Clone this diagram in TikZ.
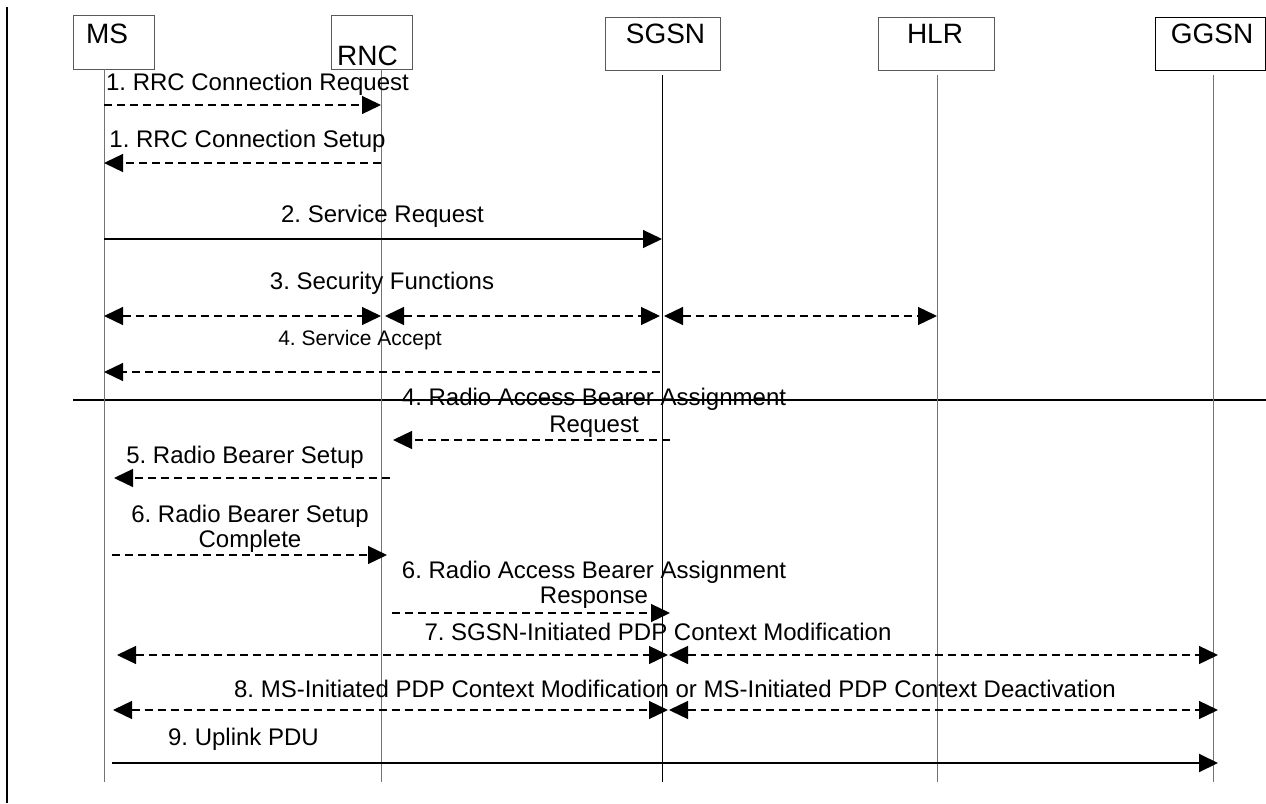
\documentclass[tikz,border=0pt]{standalone}
\usepackage{fontspec}
\setmainfont{Liberation Sans}
\usetikzlibrary{arrows.meta}
\frenchspacing
\begin{document}
\begin{tikzpicture}[x=1pt,y=-1pt,
  every node/.style={inner sep=0pt, outer sep=0pt},
  >={Triangle[length=19pt,width=18pt]},
  ent/.style={draw=black!65, line width=0.9pt, anchor=north west},
  entlabel/.style={font=\fontsize{28}{30}\selectfont, anchor=base},
  life/.style={draw=black!55, line width=0.9pt},
  lbl/.style={font=\fontsize{24}{26}\selectfont, anchor=base},
  slbl/.style={font=\fontsize{21}{23}\selectfont, anchor=base},
  dmsg/.style={line width=1.3pt, dash pattern=on 8pt off 5pt},
  smsg/.style={line width=1.1pt},
  rule/.style={line width=1.5pt}
]
\useasboundingbox (0,0) rectangle (1266,803);

% left bar and separator
\coordinate (barT) at (7,7);
\coordinate (barB) at (7,803);
\draw[line width=2.6pt] (barT) -- (barB);
\coordinate (sepL) at (73,400);
\coordinate (sepR) at (1266,400);
\draw[rule] (sepL) -- (sepR);

% entity boxes
\node[ent, minimum width=81pt, minimum height=54pt] (ms) at (73,15) {};
\node[ent, minimum width=81pt, minimum height=54pt] (rnc) at (331,15) {};
\node[ent, minimum width=115pt, minimum height=53pt] (sgsn) at (605,17) {};
\node[ent, minimum width=116pt, minimum height=53pt] (hlr) at (878,17) {};
\node[ent, draw=black, minimum width=110.5pt, minimum height=53pt] (ggsn) at (1155,17) {};
\node[entlabel] (msT) at (107,43) {MS};
\node[entlabel] (rncT) at (367.5,65) {RNC};
\node[entlabel] (sgsnT) at (665.5,43) {SGSN};
\node[entlabel] (hlrT) at (935,43) {HLR};
\node[entlabel] (ggsnT) at (1212,43) {GGSN};

% lifelines
\coordinate (msA) at (104,69);   \coordinate (msB) at (104,782);
\coordinate (rncA) at (381,69);  \coordinate (rncB) at (381,782);
\coordinate (sgA) at (662,75);   \coordinate (sgB) at (662,782);
\coordinate (hlA) at (937,75);   \coordinate (hlB) at (937,782);
\coordinate (ggA) at (1213,75);  \coordinate (ggB) at (1213,782);
\draw[life] (msA) -- (msB);
\draw[life] (rncA) -- (rncB);
\draw[life, draw=black] (sgA) -- (sgB);
\draw[life] (hlA) -- (hlB);
\draw[life] (ggA) -- (ggB);

% 1. RRC Connection Request
\node[lbl] (l1) at (257.5,90) {1. RRC Connection Request};
\coordinate (m1a) at (104,105); \coordinate (m1b) at (381,105);
\draw[dmsg,->] (m1a) -- (m1b);

% 1. RRC Connection Setup
\node[lbl] (l2) at (247.5,147) {1. RRC Connection Setup};
\coordinate (m2a) at (381,163); \coordinate (m2b) at (104,163);
\draw[dmsg,->] (m2a) -- (m2b);

% 2. Service Request
\node[lbl] (l3) at (382.5,222) {2. Service Request};
\coordinate (m3a) at (104,239); \coordinate (m3b) at (662,239);
\draw[smsg,->] (m3a) -- (m3b);

% 3. Security Functions
\node[lbl] (l4) at (382,289) {3. Security Functions};
\coordinate (m4a) at (104,316); \coordinate (m4b) at (381,316);
\coordinate (m4c) at (385,316); \coordinate (m4d) at (660,316);
\coordinate (m4e) at (664,316); \coordinate (m4f) at (937,316);
\draw[dmsg,<->] (m4a) -- (m4b);
\draw[dmsg,<->] (m4c) -- (m4d);
\draw[dmsg,<->] (m4e) -- (m4f);

% 4. Service Accept
\node[slbl] (l5) at (360,345) {4. Service Accept};
\coordinate (m5a) at (660,372); \coordinate (m5b) at (104,372);
\draw[dmsg,->] (m5a) -- (m5b);

% 4. RAB Assignment Request
\node[lbl] (l6a) at (594,405) {4. Radio Access Bearer Assignment};
\node[lbl] (l6b) at (594,432) {Request};
\coordinate (m6a) at (670,440); \coordinate (m6b) at (393,440);
\draw[dmsg,->] (m6a) -- (m6b);

% 5. Radio Bearer Setup
\node[lbl] (l7) at (245,463) {5. Radio Bearer Setup};
\coordinate (m7a) at (390,478); \coordinate (m7b) at (114,478);
\draw[dmsg,->] (m7a) -- (m7b);

% 6. Radio Bearer Setup Complete
\node[lbl] (l8a) at (250,522) {6. Radio Bearer Setup};
\node[lbl] (l8b) at (250,547) {Complete};
\coordinate (m8a) at (112,555); \coordinate (m8b) at (387,555);
\draw[dmsg,->] (m8a) -- (m8b);

% 6. RAB Assignment Response
\node[lbl] (l9a) at (594,578) {6. Radio Access Bearer Assignment};
\node[lbl] (l9b) at (594,603) {Response};
\coordinate (m9a) at (392,613); \coordinate (m9b) at (670,613);
\draw[dmsg,->] (m9a) -- (m9b);

% 7. SGSN-Initiated PDP Context Modification
\node[lbl] (l10) at (658,640) {7. SGSN-Initiated PDP Context Modification};
\coordinate (m10a) at (117,655); \coordinate (m10b) at (668,655);
\coordinate (m10c) at (669,655); \coordinate (m10d) at (1218,655);
\draw[dmsg,<->] (m10a) -- (m10b);
\draw[dmsg,<->] (m10c) -- (m10d);

% 8. MS-Initiated ...
\node[lbl] (l11) at (675,697) {8. MS-Initiated PDP Context Modification or MS-Initiated PDP Context Deactivation};
\coordinate (m11a) at (113,710); \coordinate (m11b) at (668,710);
\coordinate (m11c) at (669,710); \coordinate (m11d) at (1218,710);
\draw[dmsg,<->] (m11a) -- (m11b);
\draw[dmsg,<->] (m11c) -- (m11d);

% 9. Uplink PDU
\node[lbl] (l12) at (243.5,745) {9. Uplink PDU};
\coordinate (m12a) at (112,763); \coordinate (m12b) at (1218,763);
\draw[line width=2pt,->] (m12a) -- (m12b);
\end{tikzpicture}
\end{document}
